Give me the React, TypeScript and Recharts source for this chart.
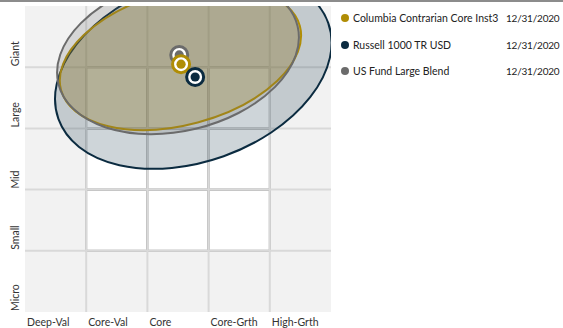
import React from "react"
import {
  ScatterChart,
  Scatter,
  XAxis,
  YAxis,
  ReferenceArea,
  ReferenceLine,
} from "recharts"

// axis labels (style = x, size = y), one per unit band
const styleLabels = ["Deep-Val", "Core-Val", "Core", "Core-Grth", "High-Grth"]
const sizeLabels = ["Micro", "Small", "Mid", "Large", "Giant"]
const bandStarts = [0, 1, 2, 3, 4]
const gridValues = [1, 2, 3, 4]
const boxStarts = [1, 2, 3]

// series, in legend order
const seriesNames = ["Columbia Contrarian Core Inst3", "Russell 1000 TR USD", "US Fund Large Blend"]
const seriesDates = ["12/31/2020", "12/31/2020", "12/31/2020"]
const seriesColors = ["#b08d05", "#0b2b40", "#6b6b6b"]
const fillOpacity = [0.25, 0.2, 0.2]

// centroids (style score, size score)
const centroidX = [2.55, 2.78, 2.52]
const centroidY = [4.05, 3.84, 4.2]

// ownership zones: centre, semi-axes (units), tilt in degrees
const zoneX = [2.54, 2.75, 2.5]
const zoneY = [4.15, 3.94, 4.2]
const zoneRx = [2.02, 2.34, 2.01]
const zoneRy = [1.09, 1.48, 1.24]
const zoneTilt = [15, 19.6, 13.5]

const W = 563
const H = 328
const PLOT = { left: 25, top: 6, width: 306, height: 306 }
const UNIT = PLOT.width / 5
const FONT = "Lato, 'Open Sans', sans-serif"

const drawOrder = [1, 0, 2] // zones: index benchmark first
const markerOrder = [2, 0, 1]

const zones = drawOrder.map((i) => ({
  x: zoneX[i],
  y: zoneY[i],
  rx: zoneRx[i],
  ry: zoneRy[i],
  tilt: zoneTilt[i],
  color: seriesColors[i],
  opacity: fillOpacity[i],
}))

const Zone = (props: any) => {
  const { cx, cy, payload } = props
  if (cx == null || cy == null) return null
  return (
    <ellipse
      cx={cx}
      cy={cy}
      rx={payload.rx * UNIT}
      ry={payload.ry * UNIT}
      transform={`rotate(${-payload.tilt} ${cx} ${cy})`}
      fill={payload.color}
      fillOpacity={payload.opacity}
      stroke={payload.color}
      strokeWidth={2}
    />
  )
}

const Centroid = (props: any) => {
  const { cx, cy, color } = props
  if (cx == null || cy == null) return null
  return (
    <g>
      <circle cx={cx} cy={cy} r={8.5} fill="#fff" stroke={color} strokeWidth={3} />
      <circle cx={cx} cy={cy} r={4.6} fill={color} />
    </g>
  )
}

const StyleTick = (props: any) => {
  const { x, y, payload } = props
  return (
    <text x={x + 2} y={y + 6} fontSize={10.5} fill="#333" fontFamily={FONT}>
      {styleLabels[payload.value]}
    </text>
  )
}

const SizeTick = (props: any) => {
  const { x, y, payload } = props
  return (
    <text
      x={x + 2}
      y={y - 1}
      fontSize={10.5}
      fill="#333"
      fontFamily={FONT}
      transform={`rotate(-90 ${x + 2} ${y - 1})`}
    >
      {sizeLabels[payload.value]}
    </text>
  )
}

export default function App() {
  return (
    <div style={{ position: "absolute", left: 0, top: 0, width: W, height: H, background: "#fff" }}>
      <div style={{ position: "absolute", left: 0, top: 0, width: W, height: 2, background: "#8c8c8c" }} />

      <ScatterChart
        width={W}
        height={H}
        margin={{ top: PLOT.top, right: W - PLOT.left - PLOT.width, bottom: 0, left: 0 }}
      >
        <XAxis
          type="number"
          dataKey="x"
          domain={[0, 5]}
          ticks={bandStarts}
          allowDataOverflow
          axisLine={false}
          tickLine={false}
          height={H - PLOT.top - PLOT.height}
          tick={<StyleTick />}
        />
        <YAxis
          type="number"
          dataKey="y"
          domain={[0, 5]}
          ticks={bandStarts}
          allowDataOverflow
          axisLine={false}
          tickLine={false}
          width={PLOT.left}
          tick={<SizeTick />}
        />

        <ReferenceArea x1={0} x2={5} y1={0} y2={5} fill="#f2f2f2" fillOpacity={1} stroke="none" />
        {gridValues.map((v) => (
          <ReferenceLine key={`gx${v}`} x={v} stroke="#d9d9d9" strokeWidth={2} />
        ))}
        {gridValues.map((v) => (
          <ReferenceLine key={`gy${v}`} y={v} stroke="#d9d9d9" strokeWidth={2} />
        ))}
        {boxStarts.map((bx) =>
          boxStarts.map((by) => (
            <ReferenceArea
              key={`c${bx}${by}`}
              x1={bx}
              x2={bx + 1}
              y1={by}
              y2={by + 1}
              fill="#fff"
              fillOpacity={1}
              stroke="#999"
              strokeWidth={2}
            />
          ))
        )}

        <Scatter data={zones} shape={<Zone />} isAnimationActive={false} />

        {markerOrder.map((i) => (
          <Scatter
            key={seriesNames[i]}
            name={seriesNames[i]}
            data={[{ x: centroidX[i], y: centroidY[i] }]}
            shape={<Centroid color={seriesColors[i]} />}
            isAnimationActive={false}
          />
        ))}
      </ScatterChart>

      <div style={{ position: "absolute", left: 340, top: 5, fontFamily: FONT, fontSize: 10.5, color: "#222" }}>
        {seriesNames.map((name, i) => (
          <div key={name} style={{ display: "flex", alignItems: "center", height: 26.5 }}>
            <span
              style={{
                width: 8,
                height: 8,
                borderRadius: 4,
                background: seriesColors[i],
                marginLeft: 1,
                marginRight: 4,
              }}
            />
            <span style={{ width: 153 }}>{name}</span>
            <span style={{ fontSize: 10, letterSpacing: "-0.2px", whiteSpace: "nowrap" }}>{seriesDates[i]}</span>
          </div>
        ))}
      </div>
    </div>
  )
}
